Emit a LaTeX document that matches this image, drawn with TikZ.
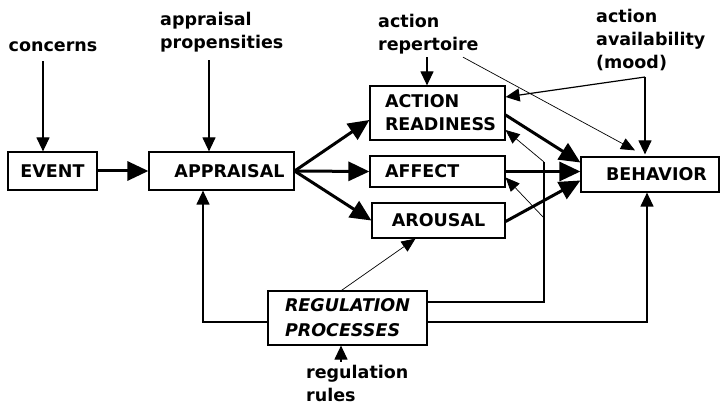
\documentclass[tikz,border=0pt]{standalone}
\usepackage{fontspec}
\setmainfont{DejaVu Sans}
\usetikzlibrary{arrows.meta}

\begin{document}
\begin{tikzpicture}[x=1pt,y=-1pt,every node/.style={font=\bfseries\fontsize{17.5}{23}\selectfont},
  box/.style={draw,line width=1.2pt,inner sep=0pt,align=left},
  lbl/.style={inner sep=3pt,align=left},
  arr/.style={line width=1.2pt,-{Triangle[length=14pt,width=13pt]}},
  fine/.style={line width=0.7pt,-{Triangle[length=14pt,width=12pt]}},
  heavy/.style={line width=3pt,-{Triangle[length=21pt,width=19pt]}}]
\useasboundingbox (0,0) rectangle (720,406);
\node[box,minimum width=89pt,minimum height=38pt] (event) at (52.5,171) {EVENT};
\node[box,minimum width=145pt,minimum height=38pt] (appraisal) at (221.5,171) {\hspace*{16pt}APPRAISAL};
\node[box,text width=105pt,inner xsep=15pt,minimum height=54pt] (readiness) at (437.5,113) {ACTION\\READINESS};
\node[box,text width=105pt,inner xsep=15pt,minimum height=31pt] (affect) at (437.5,171.5) {AFFECT};
\node[box,minimum width=133pt,minimum height=35pt] (arousal) at (438.5,220.5) {AROUSAL};
\node[box,minimum width=138pt,minimum height=35pt] (behavior) at (650,174.5) {\hspace*{13pt}BEHAVIOR};
\node[box,minimum width=159pt,minimum height=54pt,font=\bfseries\itshape\fontsize{17.5}{25}\selectfont] (regulation) at (347.5,318) {REGULATION\\PROCESSES};
\node[lbl] (concerns) at (53,47) {concerns};
\node[lbl,anchor=west] (propensities) at (157,32) {appraisal\\propensities};
\node[lbl,anchor=west] (repertoire) at (375,34) {action\\repertoire};
\node[lbl,anchor=west] (availability) at (593,40) {action\\availability\\(mood)};
\node[lbl,anchor=west] (rules) at (303,383) {regulation\\rules};
\coordinate (mood) at (645,77);
\coordinate (regtop) at (544,162);
\coordinate (regmid) at (544,218);
\draw[arr,shorten <=6pt] ([xshift=-10pt]concerns.south) -- ([xshift=-10pt]concerns.south |- event.north);
\draw[arr,shorten <=5pt] ([xshift=52pt]propensities.south west) -- ([xshift=52pt]propensities.south west |- appraisal.north);
\draw[arr] ([xshift=52pt]repertoire.south west) -- ([xshift=52pt]repertoire.south west |- readiness.north);
\draw[fine] ([xshift=88pt]repertoire.south west) -- ([xshift=-15pt,yshift=6pt]behavior.north);
\draw[arr] (mood) -- ([yshift=16pt]readiness.east);
\draw[arr,shorten >=2pt] (mood) -- (mood |- behavior.north);
\draw[heavy] (event) -- (appraisal);
\draw[heavy] (appraisal.east) -- ([yshift=-7pt]readiness.west);
\draw[heavy] (appraisal.east) -- (affect.west);
\draw[heavy] (appraisal.east) -- (arousal.west);
\draw[heavy] ([yshift=-2pt]readiness.east) -- ([yshift=12pt]behavior.west);
\draw[heavy] (affect.east) -- (affect.east -| behavior.west);
\draw[heavy] ([yshift=-1pt]arousal.east) -- ([yshift=-6pt]behavior.west);
\draw[arr] ([yshift=-4pt]regulation.west) -| ([xshift=-18.5pt]appraisal.south);
\draw[fine] ([xshift=-6pt]regulation.north) -- ([xshift=-23pt]arousal.south);
\draw[line width=1.2pt] ([yshift=16pt]regulation.east) -| (regtop);
\draw[fine] (regtop) -- ([yshift=-17pt]readiness.east);
\draw[fine] (regmid) -- ([yshift=-6pt]affect.east);
\draw[arr] ([yshift=-4pt]regulation.east) -| ([xshift=-3pt]behavior.south);
\draw[arr] ([xshift=38pt]rules.north west) -- ([xshift=38pt]rules.north west |- regulation.south);
\end{tikzpicture}
\end{document}
